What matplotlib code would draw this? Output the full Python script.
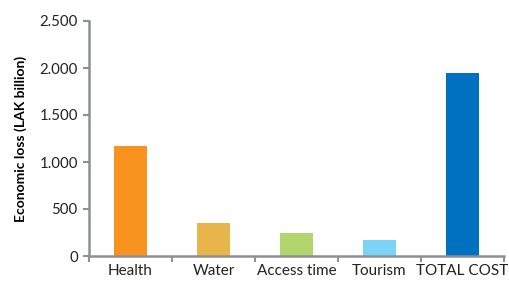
import matplotlib.pyplot as plt
from matplotlib.ticker import FuncFormatter

plt.rcParams['font.family'] = ['Lato', 'DejaVu Sans']

categories = ['Health', 'Water', 'Access time', 'Tourism', 'TOTAL COST']
losses = [1170, 352, 246, 172, 1945]
colors = ['#F7931E', '#E8B54A', '#B3D56E', '#7BD3F5', '#0070C0']
yticks = [0, 500, 1000, 1500, 2000, 2500]

fig = plt.figure(figsize=(5.09, 2.83), dpi=100)
ax = fig.add_axes([89 / 509, 1 - 256 / 283, 415 / 509, 235 / 283])

x = range(len(categories))
ax.bar(x, losses, width=0.4, color=colors)

ax.set_xlim(-0.5, len(categories) - 0.5)
ax.set_ylim(0, 2500)
ax.set_yticks(yticks)
ax.yaxis.set_major_formatter(FuncFormatter(lambda v, p: f'{int(v):,}'.replace(',', '.')))

# category boundaries get the tick marks, labels sit between them
ax.set_xticks([i - 0.5 for i in range(len(categories) + 1)], minor=False)
ax.set_xticklabels([])
ax.set_xticks(list(x), minor=True)
ax.set_xticklabels(categories, minor=True)
ax.tick_params(axis='x', which='minor', length=0, pad=6, labelsize=11, colors='#222222')
ax.tick_params(axis='x', which='major', length=4, width=1.5, color='#8C9196')
ax.tick_params(axis='y', length=4, width=1.5, color='#8C9196', labelsize=10.8,
               labelcolor='#222222', pad=4)

for s in ['top', 'right']:
    ax.spines[s].set_visible(False)
for s in ['left', 'bottom']:
    ax.spines[s].set_color('#8C9196')
    ax.spines[s].set_linewidth(1.8)

ax.set_ylabel('Economic loss (LAK billion)', fontsize=10, fontweight='bold', labelpad=9)

fig.savefig('out.png', dpi=100)
